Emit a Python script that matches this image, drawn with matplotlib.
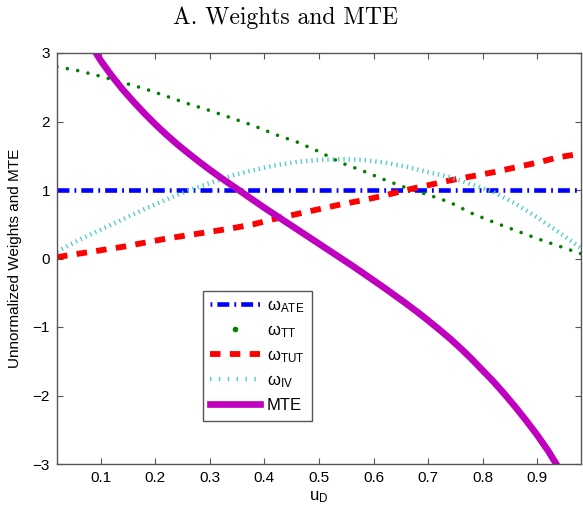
import matplotlib
matplotlib.use('Agg')
import matplotlib.pyplot as plt
from matplotlib.lines import Line2D

# values
u_grid = [0.02, 0.06, 0.10, 0.14, 0.18, 0.22, 0.26, 0.30, 0.34, 0.38, 0.42, 0.46, 0.50,
          0.54, 0.58, 0.62, 0.66, 0.70, 0.74, 0.78, 0.82, 0.86, 0.90, 0.94, 0.98]
w_ate = [1.0] * len(u_grid)
w_tt = [2.80, 2.74, 2.66, 2.57, 2.48, 2.37, 2.26, 2.16, 2.05, 1.94, 1.81, 1.70, 1.56,
        1.40, 1.28, 1.15, 1.03, 0.93, 0.82, 0.66, 0.53, 0.41, 0.29, 0.18, 0.07]
w_tut = [0.02, 0.07, 0.12, 0.17, 0.23, 0.29, 0.34, 0.39, 0.44, 0.50, 0.58, 0.65, 0.72,
         0.79, 0.85, 0.92, 1.00, 1.07, 1.14, 1.20, 1.26, 1.33, 1.40, 1.48, 1.53]
w_iv = [0.10, 0.27, 0.42, 0.57, 0.72, 0.86, 0.99, 1.10, 1.21, 1.29, 1.36, 1.41, 1.44,
        1.45, 1.44, 1.40, 1.34, 1.26, 1.19, 1.08, 0.97, 0.80, 0.60, 0.38, 0.15]

# MTE read on a finer grid (it bends hard near the ends)
u_mte = [0.02, 0.04, 0.06, 0.08, 0.10, 0.12, 0.14, 0.16, 0.18, 0.20, 0.22, 0.24, 0.26,
         0.28, 0.30, 0.32, 0.34, 0.36, 0.38, 0.40, 0.42, 0.44, 0.46, 0.48, 0.50,
         0.52, 0.54, 0.56, 0.58, 0.60, 0.62, 0.64, 0.66, 0.68, 0.70, 0.72, 0.74,
         0.76, 0.78, 0.80, 0.82, 0.84, 0.86, 0.88, 0.90, 0.92, 0.94, 0.96, 0.98]
mte = [4.51, 3.88, 3.47, 3.15, 2.89, 2.67, 2.47, 2.29, 2.12, 1.96, 1.81, 1.67, 1.54,
       1.415, 1.295, 1.18, 1.07, 0.96, 0.85, 0.74, 0.635, 0.53, 0.425, 0.32, 0.215,
       0.11, 0.005, -0.10, -0.21, -0.32, -0.43, -0.545, -0.66, -0.78, -0.905, -1.035, -1.17,
       -1.315, -1.47, -1.635, -1.80, -1.98, -2.17, -2.37, -2.58, -2.81, -3.07, -3.40, -3.95]

x_ticks = [0.1, 0.2, 0.3, 0.4, 0.5, 0.6, 0.7, 0.8, 0.9]
y_ticks = [-3, -2, -1, 0, 1, 2, 3]

plt.rcParams['font.family'] = ['Liberation Sans', 'DejaVu Sans']
plt.rcParams['mathtext.fontset'] = 'dejavusans'

fig = plt.figure(figsize=(5.83, 5.12), dpi=100)
ax = fig.add_axes([57/583, 48/512, 524/583, 411/512])

blue = (0.0, 0.0, 1.0)
green = (0.0, 0.5, 0.0)
red = (1.0, 0.0, 0.0)
cyan = (0.3, 0.8, 0.8)
magenta = (0.75, 0.0, 0.75)

ax.plot(u_grid, w_ate, color=blue, lw=3.3, dashes=(2.6, 1.1, 0.4, 1.1), dash_capstyle='butt')
ax.plot(u_grid, w_tt, color=green, lw=2.6, dashes=(0.01, 2.9), dash_capstyle='round')
ax.plot(u_grid, w_tut, color=red, lw=4.2, dashes=(1.8, 1.6), dash_capstyle='butt')
ax.plot(u_grid, w_iv, color=cyan, lw=3.2, dashes=(0.3, 0.9), dash_capstyle='butt')
ax.plot(u_mte, mte, color=magenta, lw=4.8, solid_capstyle='butt', solid_joinstyle='round')

ax.set_xlim(0.02, 0.98)
ax.set_ylim(-3, 3)
ax.set_xticks(x_ticks)
ax.set_yticks(y_ticks)
ax.set_xticklabels([str(t) for t in x_ticks])
ax.set_yticklabels(['\u22123', '\u22122', '\u22121', '0', '1', '2', '3'])
ax.tick_params(direction='in', top=True, right=True, length=4, width=0.8,
               labelsize=11, color='#555555', pad=5)
for s in ax.spines.values():
    s.set_color('#555555')
    s.set_linewidth(1.0)

ax.set_xlabel(r'$\mathregular{u_D}$', fontsize=12, labelpad=3)
ax.set_ylabel('Unnormalized Weights and MTE', fontsize=11, labelpad=8)
fig.text(0.49, 0.965, 'A. Weights and MTE', ha='center', va='center',
         fontsize=17, family='cmr10')

handles = [
    Line2D([], [], color=blue, lw=3.3, dashes=(0.4, 1.1, 2.6, 1.1), dash_capstyle='butt'),
    Line2D([], [], ls='none', marker='o', ms=3, color=green),
    Line2D([], [], color=red, lw=4.2, dashes=(1.8, 1.6), dash_capstyle='butt'),
    Line2D([], [], color=cyan, lw=3.2, dashes=(0.3, 1.7), dash_capstyle='butt'),
    Line2D([], [], color=magenta, lw=4.8),
]
labels = [r'$\mathregular{\omega_{ATE}}$', r'$\mathregular{\omega_{TT}}$',
          r'$\mathregular{\omega_{TUT}}$', r'$\mathregular{\omega_{IV}}$', 'MTE']
leg = ax.legend(handles, labels, loc='lower left', bbox_to_anchor=(0.262, 0.085),
                fontsize=12, handlelength=3.0, handletextpad=0.4, labelspacing=0.5,
                borderpad=0.45, fancybox=False, framealpha=1, edgecolor='#555555')
leg.get_frame().set_linewidth(1.0)

fig.savefig('out.png', dpi=100)
